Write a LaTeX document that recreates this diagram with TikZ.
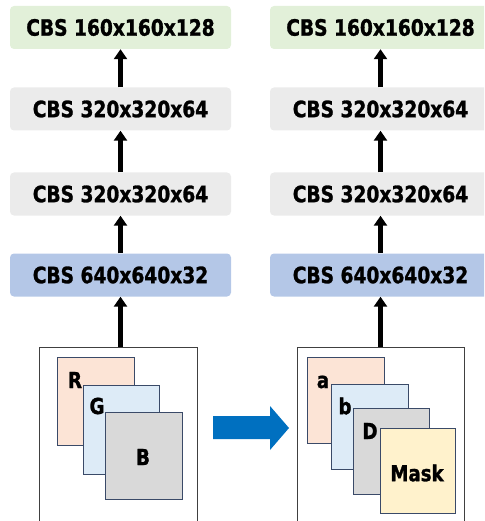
\documentclass[tikz,border=0pt]{standalone}
\usepackage{fontspec}
\setmainfont{DejaVu Sans Condensed}[BoldFeatures={FakeBold=1.2,FakeStretch=0.92}]
\usetikzlibrary{arrows.meta}
\definecolor{cgreen}{HTML}{E2F0D9}
\definecolor{cgray}{HTML}{EBEBEB}
\definecolor{cblue}{HTML}{B4C7E7}
\definecolor{cpink}{HTML}{FCE4D6}
\definecolor{clblue}{HTML}{DDEBF7}
\definecolor{cdgray}{HTML}{D9D9D9}
\definecolor{cmask}{HTML}{FFF2CC}
\definecolor{cedge}{HTML}{3A4A68}
\definecolor{carrow}{HTML}{0070C0}
\tikzset{
  cbs/.style={rounded corners=4pt, minimum width=221pt, minimum height=43pt, inner sep=0pt,
    font=\fontsize{22.5pt}{24pt}\selectfont\bfseries, text=black},
  arr/.style={line width=4.2pt, -{Triangle[length=10pt,width=13pt]}},
  inbox/.style={draw=black!75, line width=0.9pt, inner sep=0pt},
  plane/.style={draw=cedge, line width=1pt, inner sep=0pt, minimum width=77pt, minimum height=87pt},
  lab/.style={inner sep=0pt, font=\fontsize{22pt}{24pt}\selectfont\bfseries}
}
\begin{document}
\begin{tikzpicture}[x=1pt,y=-1pt]
\clip (0,0) rectangle (484,521);
% left column
\node[cbs, fill=cgreen] (gL) at (120.5,27.5) {CBS 160x160x128};
\node[cbs, fill=cgray] (c1L) at (120.5,109) {CBS 320x320x64};
\node[cbs, fill=cgray] (c2L) at (120.5,194) {CBS 320x320x64};
\node[cbs, fill=cblue] (bL) at (120.5,275) {CBS 640x640x32};
% right column
\node[cbs, fill=cgreen] (gR) at (380.5,27.5) {CBS 160x160x128};
\node[cbs, fill=cgray] (c1R) at (380.5,109) {CBS 320x320x64};
\node[cbs, fill=cgray] (c2R) at (380.5,194) {CBS 320x320x64};
\node[cbs, fill=cblue] (bR) at (380.5,275) {CBS 640x640x32};
% input boxes
\node[inbox, minimum width=158pt, minimum height=180pt] (inL) at (118,437) {};
\node[inbox, minimum width=167pt, minimum height=180pt] (inR) at (380.5,437) {};
% arrows
\foreach \a/\b in {c1L/gL, c2L/c1L, bL/c2L, c1R/gR, c2R/c1R, bR/c2R}
  \draw[arr] (\a.north) -- (\b.south);
\draw[arr] (bL.south |- inL.north) -- (bL.south);
\draw[arr] (bR.south |- inR.north) -- (bR.south);
% left planes
\node[plane, fill=cpink, minimum width=77pt, minimum height=88pt] (pR) at (95.5,401) {};
\node[plane, fill=clblue, minimum width=76pt, minimum height=89pt] (pG) at (121,429.5) {};
\node[plane, fill=cdgray, minimum width=77pt, minimum height=87pt] (pB) at (143.5,455.5) {};
\node[lab] (tR) at (75,380) {R};
\node[lab] (tG) at (97,406) {G};
\node[lab] (tB) at (143,457) {B};
% right planes
\node[plane, fill=cpink, minimum width=77pt, minimum height=86pt] (pa) at (345.5,400) {};
\node[plane, fill=clblue, minimum width=77pt, minimum height=85pt] (pb) at (369.5,426.5) {};
\node[plane, fill=cdgray, minimum width=76pt, minimum height=86pt] (pD) at (391,451) {};
\node[plane, fill=cmask, minimum width=75pt, minimum height=85pt] (pM) at (417.5,470.5) {};
\node[lab] (ta) at (323,382) {a};
\node[lab] (tb) at (345,406) {b};
\node[lab] (tD) at (370,431) {D};
\node[lab] (tM) at (417,473) {Mask};
% blue block arrow
\fill[carrow] (213,416) -- (270,416) -- (270,406) -- (289,428) -- (270,450) -- (270,439) -- (213,439) -- cycle;
\end{tikzpicture}
\end{document}
